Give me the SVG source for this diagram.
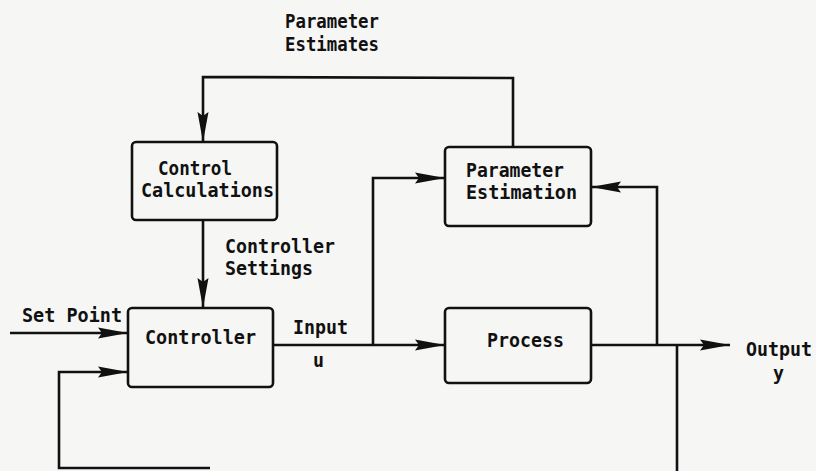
<svg xmlns="http://www.w3.org/2000/svg" width="816" height="471" viewBox="0 0 816 471">
  <defs>
    <style>
      .box { fill: none; stroke: #111; stroke-width: 2.6; }
      .wire { fill: none; stroke: #111; stroke-width: 2.6; stroke-linejoin: miter; }
      .lbl { font-family: "DejaVu Sans Mono", "Liberation Mono", monospace; font-size: 19.5px; font-weight: bold; fill: #111; }
    </style>
    <marker id="arrow" markerUnits="userSpaceOnUse" markerWidth="32" markerHeight="14" refX="30" refY="6" orient="auto">
      <path d="M0,0.5 L30,6 L0,11.5 L4,6 z" fill="#111"/>
    </marker>
  </defs>

  <rect width="816" height="471" fill="#f6f6f4"/>

  <!-- blocks -->
  <g id="control-calculations">
    <rect class="box" x="132" y="142" width="145" height="78" rx="4"/>
    <text class="lbl" x="158" y="175" textLength="74" lengthAdjust="spacingAndGlyphs">Control</text>
    <text class="lbl" x="141" y="197" textLength="133" lengthAdjust="spacingAndGlyphs">Calculations</text>
  </g>
  <g id="parameter-estimation">
    <rect class="box" x="445" y="147" width="146" height="79" rx="4"/>
    <text class="lbl" x="466" y="177" textLength="98" lengthAdjust="spacingAndGlyphs">Parameter</text>
    <text class="lbl" x="466" y="199" textLength="111" lengthAdjust="spacingAndGlyphs">Estimation</text>
  </g>
  <g id="controller">
    <rect class="box" x="128" y="308" width="145" height="79" rx="4"/>
    <text class="lbl" x="145" y="344" textLength="111" lengthAdjust="spacingAndGlyphs">Controller</text>
  </g>
  <g id="process">
    <rect class="box" x="445" y="308" width="146" height="75" rx="4"/>
    <text class="lbl" x="487" y="347" textLength="77" lengthAdjust="spacingAndGlyphs">Process</text>
  </g>

  <!-- signal lines -->
  <g id="connectors">
    <!-- parameter estimates back to control calculations -->
    <polyline class="wire" points="513,147 513,78 203,77 203,142" marker-end="url(#arrow)"/>
    <!-- controller settings -->
    <line class="wire" x1="203" y1="220" x2="203" y2="308" marker-end="url(#arrow)"/>
    <!-- set point -->
    <line class="wire" x1="10" y1="333" x2="128" y2="333" marker-end="url(#arrow)"/>
    <!-- measured output fed back to controller -->
    <polyline class="wire" points="210,468 59,468 59,372 128,372" marker-end="url(#arrow)"/>
    <!-- input u to process -->
    <line class="wire" x1="273" y1="345" x2="445" y2="345" marker-end="url(#arrow)"/>
    <!-- input u to parameter estimation -->
    <polyline class="wire" points="373,345 373,178 445,178" marker-end="url(#arrow)"/>
    <!-- output y -->
    <line class="wire" x1="591" y1="345" x2="730" y2="345" marker-end="url(#arrow)"/>
    <!-- output y to parameter estimation -->
    <polyline class="wire" points="657,345 657,187 591,187" marker-end="url(#arrow)"/>
    <!-- output y feedback path -->
    <line class="wire" x1="677" y1="345" x2="677" y2="471"/>
  </g>

  <!-- signal labels -->
  <g id="labels">
    <text class="lbl" x="285" y="28" textLength="94" lengthAdjust="spacingAndGlyphs">Parameter</text>
    <text class="lbl" x="285" y="51" textLength="94" lengthAdjust="spacingAndGlyphs">Estimates</text>
    <text class="lbl" x="225" y="253" textLength="110" lengthAdjust="spacingAndGlyphs">Controller</text>
    <text class="lbl" x="225" y="275" textLength="88" lengthAdjust="spacingAndGlyphs">Settings</text>
    <text class="lbl" x="22" y="322" textLength="100" lengthAdjust="spacingAndGlyphs">Set Point</text>
    <text class="lbl" x="293" y="334" textLength="55" lengthAdjust="spacingAndGlyphs">Input</text>
    <text class="lbl" x="313" y="367" textLength="11" lengthAdjust="spacingAndGlyphs">u</text>
    <text class="lbl" x="746" y="356" textLength="66" lengthAdjust="spacingAndGlyphs">Output</text>
    <text class="lbl" x="773" y="380" textLength="11" lengthAdjust="spacingAndGlyphs">y</text>
  </g>
</svg>
